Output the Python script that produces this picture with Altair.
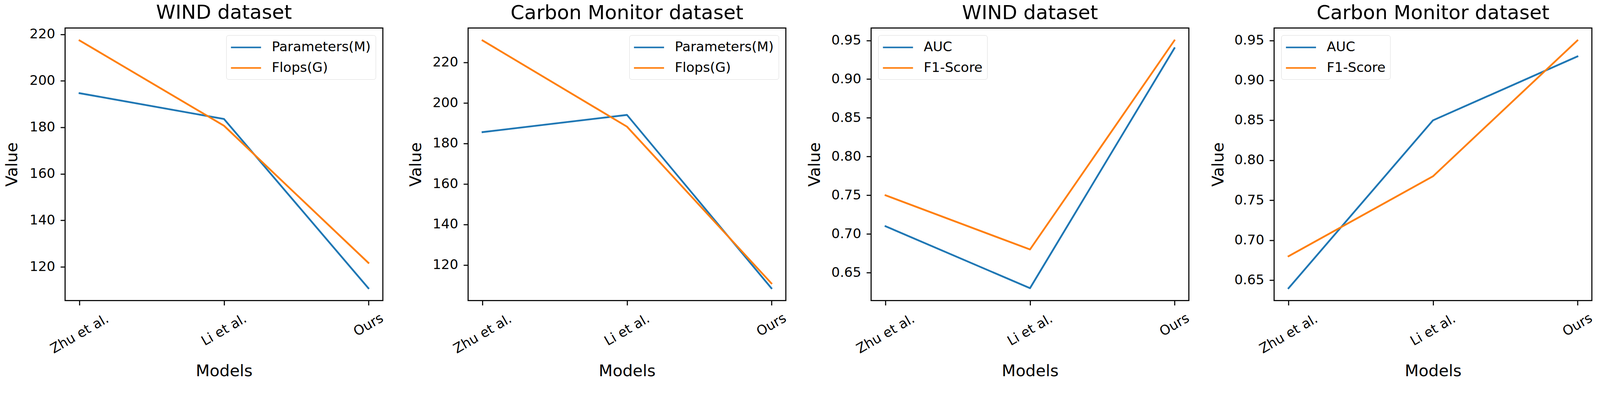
import altair as alt
import pandas as pd

# ---- data ----
models = ["Zhu et al.", "Li et al.", "Ours"]

wind_params = [194.7, 183.6, 110.8]
wind_flops = [217.4, 180.7, 121.7]

carbon_params = [185.6, 194.1, 108.5]
carbon_flops = [230.9, 188.3, 110.9]

wind_auc = [0.71, 0.63, 0.94]
wind_f1 = [0.75, 0.68, 0.95]

carbon_auc = [0.64, 0.85, 0.93]
carbon_f1 = [0.68, 0.78, 0.95]

cost_series = ["Parameters(M)", "Flops(G)"]
score_series = ["AUC", "F1-Score"]

cost_ticks = [120, 140, 160, 180, 200, 220]
score_ticks = [0.65, 0.70, 0.75, 0.80, 0.85, 0.90, 0.95]

# ---- styling ----
BLUE = "#1f77b4"
ORANGE = "#ff7f0e"
FONT = "DejaVu Sans"
W, H = 887, 760
TICK_FS = 37.5
LABEL_FS = 45
TITLE_FS = 55


def panel(title, names, series_vals, ticks, fmt, legend_orient, title_x):
    rows = []
    for name, vals in zip(names, series_vals):
        for i, (m, v) in enumerate(zip(models, vals)):
            rows.append({"Model": m, "Series": name, "Value": v, "idx": i})
    df = pd.DataFrame(rows)
    allv = [v for vals in series_vals for v in vals]
    lo, hi = min(allv), max(allv)
    pad = (hi - lo) * 0.05

    x_axis = alt.Axis(
        title="Models",
        titleFont=FONT, titleFontSize=LABEL_FS, titleFontWeight="normal",
        titleColor="black", titleY=210, titleBaseline="alphabetic",
        labelFont=FONT, labelFontSize=TICK_FS, labelColor="black",
        labelAngle=-30, labelAlign="center", labelBaseline="middle",
        labelPadding={
            "condition": [
                {"test": "datum.value == 'Zhu et al.'", "value": 80},
                {"test": "datum.value == 'Li et al.'", "value": 69},
            ],
            "value": 55,
        },
        labelLimit=1000, labelOverlap=False,
        ticks=True, tickSize=13, tickWidth=3, tickColor="black",
        domain=False, grid=False,
    )
    y_axis = alt.Axis(
        title="Value", values=ticks, format=fmt,
        titleFont=FONT, titleFontSize=LABEL_FS, titleFontWeight="normal",
        titleColor="black", titleX=title_x, titleY=H / 2, titleAngle=-90,
        titleAlign="center", titleBaseline="alphabetic",
        labelFont=FONT, labelFontSize=TICK_FS, labelColor="black",
        labelPadding=15, labelOverlap=False,
        ticks=True, tickSize=13, tickWidth=3, tickColor="black",
        domain=False, grid=False,
    )
    legend = alt.Legend(
        title=None, orient=legend_orient, offset=20,
        labelFont=FONT, labelFontSize=TICK_FS, labelColor="black", labelLimit=1000,
        symbolType="M-1.135,0H3.405", symbolSize=1369, symbolStrokeWidth=4.5,
        labelOffset=72, padding=13, rowPadding=17.3,
        strokeColor="#d6d6d6", fillColor="white", cornerRadius=6,
    )
    return (
        alt.Chart(df)
        .mark_line(strokeWidth=5, strokeCap="square", strokeJoin="round")
        .encode(
            x=alt.X("Model:N", sort=models,
                    scale=alt.Scale(type="point", padding=0.1), axis=x_axis),
            y=alt.Y("Value:Q",
                    scale=alt.Scale(domain=[lo - pad, hi + pad], nice=False, zero=False),
                    axis=y_axis),
            color=alt.Color("Series:N",
                            scale=alt.Scale(domain=names, range=[BLUE, ORANGE]),
                            legend=legend),
            order=alt.Order("idx:Q"),
        )
        .properties(
            width=W, height=H,
            title=alt.TitleParams(
                title, font=FONT, fontSize=TITLE_FS, fontWeight="normal",
                color="black", anchor="middle", frame="group", offset=13,
            ),
        )
    )


p1 = panel("WIND dataset", cost_series, [wind_params, wind_flops],
           cost_ticks, "d", "top-right", -134)
p2 = panel("Carbon Monitor dataset", cost_series, [carbon_params, carbon_flops],
           cost_ticks, "d", "top-right", -132)
p3 = panel("WIND dataset", score_series, [wind_auc, wind_f1],
           score_ticks, ".2f", "top-left", -143)
p4 = panel("Carbon Monitor dataset", score_series, [carbon_auc, carbon_f1],
           score_ticks, ".2f", "top-left", -142)

chart = (
    alt.hconcat(p1, p2, p3, p4, spacing=238, bounds="flush")
    .resolve_scale(color="independent", y="independent", x="independent")
    .resolve_legend(color="independent")
    .properties(padding={"left": 1, "top": -48, "right": 5, "bottom": 0},
                background="white")
    .configure(font=FONT)
    .configure_view(stroke="black", strokeWidth=3)
)

chart.save("out.html", embed_options={"renderer": "svg", "actions": False})
